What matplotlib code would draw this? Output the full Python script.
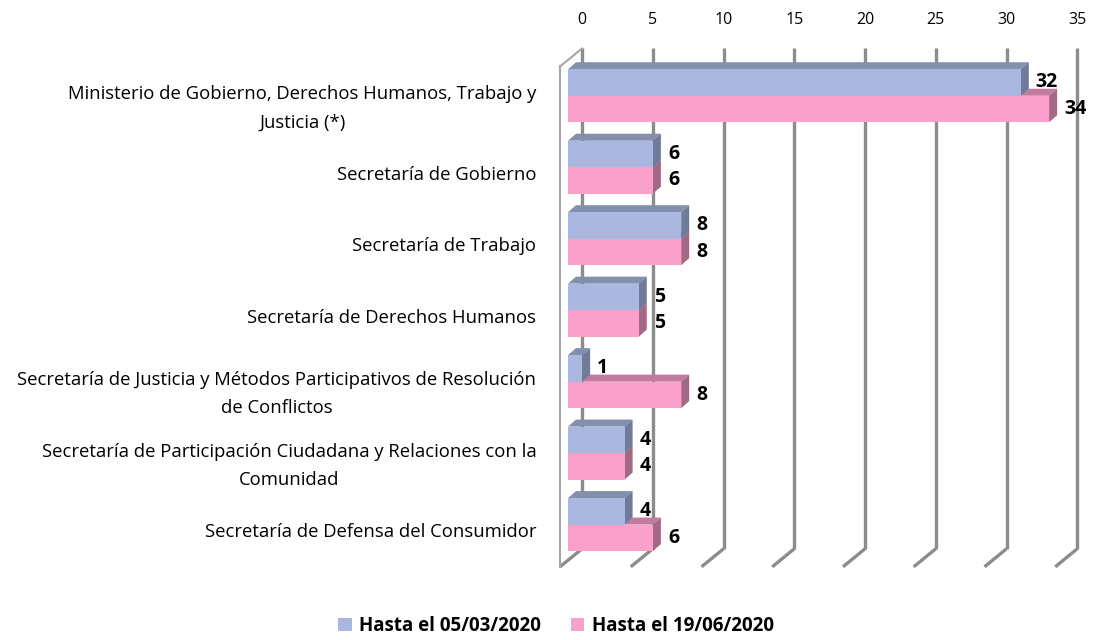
import matplotlib
matplotlib.use("Agg")
import matplotlib.pyplot as plt
from matplotlib.patches import Polygon, Patch
import numpy as np

categories = [
    "Ministerio de Gobierno, Derechos Humanos, Trabajo y\nJusticia (*)",
    "Secretaría de Gobierno",
    "Secretaría de Trabajo",
    "Secretaría de Derechos Humanos",
    "Secretaría de Justicia y Métodos Participativos de Resolución\nde Conflictos",
    "Secretaría de Participación Ciudadana y Relaciones con la\nComunidad",
    "Secretaría de Defensa del Consumidor",
]
serie_marzo = [32, 6, 8, 5, 1, 4, 4]
serie_junio = [34, 6, 8, 5, 8, 4, 6]
series_names = ["Hasta el 05/03/2020", "Hasta el 19/06/2020"]
xticks = [0, 5, 10, 15, 20, 25, 30, 35]

FONT = ["Open Sans", "DejaVu Sans"]
plt.rcParams["font.family"] = FONT

W, H = 1100, 640
fig = plt.figure(figsize=(W / 100, H / 100), dpi=100)

# bar front-face plane (pixels)
x0_px, x1_px = 568.0, 568.0 + 35 * 14.15
top_px, bot_px = 60.0, 560.3
ax = fig.add_axes([x0_px / W, (H - bot_px) / H, (x1_px - x0_px) / W, (bot_px - top_px) / H])
ax.set_xlim(0, 35)
ax.set_ylim(len(categories) - 0.5, -0.5)
ax.axis("off")

sx = (x1_px - x0_px) / 35.0
sy = (bot_px - top_px) / len(categories)

front_off = (-8.0, -6.5)
back_off = (14.0, 11.5)
bar_depth = (8.0, 7.0)

def px2dx(p):
    return p / sx

def px2dy(p):
    return -p / sy

ylo, yhi = -0.5, len(categories) - 0.5
grid_col = "#8C8C8C"
for v in xticks:
    bx = v + px2dx(back_off[0])
    ax.plot([bx, bx], [ylo + px2dy(back_off[1]), yhi + px2dy(back_off[1])],
            color=grid_col, lw=2.4, clip_on=False, zorder=1, solid_capstyle="butt")
    fx = v + px2dx(front_off[0])
    ax.plot([bx, fx], [yhi + px2dy(back_off[1]), yhi + px2dy(front_off[1])],
            color=grid_col, lw=2.4, clip_on=False, zorder=1, solid_capstyle="butt")

wall_col = "#A6A6A6"
fx0 = 0 + px2dx(front_off[0])
bx0 = 0 + px2dx(back_off[0])
ax.plot([fx0, fx0], [ylo + px2dy(front_off[1]), yhi + px2dy(front_off[1])],
        color=wall_col, lw=1.5, clip_on=False, zorder=1)
ax.plot([fx0, bx0], [ylo + px2dy(front_off[1]), ylo + px2dy(back_off[1])],
        color=wall_col, lw=1.5, clip_on=False, zorder=1)

h = 26.5 / sy
ddx, ddy = px2dx(bar_depth[0]), px2dy(bar_depth[1])
styles = [
    dict(face="#AAB8DF", top="#8390AD", side="#6F7B99"),
    dict(face="#F9A1CB", top="#C27B9F", side="#A06A85"),
]
ypos = np.arange(len(categories))

def draw_bars(vals, yc, st, z):
    ax.barh(yc, vals, height=h, color=st["face"], zorder=z + 0.2, linewidth=0)
    for v, y in zip(vals, yc):
        yt = y - h / 2
        yb = y + h / 2
        ax.add_patch(Polygon([(0, yt), (v, yt), (v + ddx, yt + ddy), (ddx, yt + ddy)],
                             closed=True, facecolor=st["top"], edgecolor="none", zorder=z))
        ax.add_patch(Polygon([(v, yt), (v + ddx, yt + ddy), (v + ddx, yb + ddy), (v, yb)],
                             closed=True, facecolor=st["side"], edgecolor="none", zorder=z + 0.1))

draw_bars(serie_junio, ypos + h / 2, styles[1], 3)
draw_bars(serie_marzo, ypos - h / 2, styles[0], 5)

for vals, yc in ((serie_marzo, ypos - h / 2), (serie_junio, ypos + h / 2)):
    for v, y in zip(vals, yc):
        ax.annotate(str(v), (v, y), xytext=(15, 0), textcoords="offset pixels",
                    ha="left", va="center", fontsize=14, fontweight="bold",
                    color="black", zorder=10, annotation_clip=False)

axb = fig.add_axes([(x0_px + back_off[0]) / W, (H - bot_px + back_off[1]) / H,
                    (x1_px - x0_px) / W, (bot_px - top_px) / H])
axb.set_xlim(0, 35)
axb.patch.set_visible(False)
for s in axb.spines.values():
    s.set_visible(False)
axb.set_yticks([])
axb.xaxis.set_ticks_position("top")
axb.set_xticks(xticks)
axb.set_xticklabels([str(t) for t in xticks])
axb.tick_params(axis="x", length=0, pad=15, labelsize=11.5)
axb.set_zorder(-1)

axf = fig.add_axes([(x0_px + front_off[0]) / W, (H - bot_px + front_off[1] + 1) / H,
                    (x1_px - x0_px) / W, (bot_px - top_px) / H])
axf.set_ylim(len(categories) - 0.5, -0.5)
axf.patch.set_visible(False)
for s in axf.spines.values():
    s.set_visible(False)
axf.set_xticks([])
axf.set_yticks(ypos)
axf.set_yticklabels(categories, multialignment="center", fontsize=13.3, linespacing=1.72)
axf.tick_params(axis="y", length=0, pad=17)
axf.set_zorder(-1)

handles = [Patch(facecolor=styles[0]["face"], edgecolor="none"),
           Patch(facecolor=styles[1]["face"], edgecolor="none")]
fig.legend(handles, series_names, loc="center", bbox_to_anchor=(556 / W, 1 - 626 / H),
           ncol=2, frameon=False, prop={"weight": "bold", "size": 13.5},
           handlelength=0.7, handleheight=0.7, handletextpad=0.4, columnspacing=1.6)

fig.savefig("out.png", dpi=100, facecolor="white")
